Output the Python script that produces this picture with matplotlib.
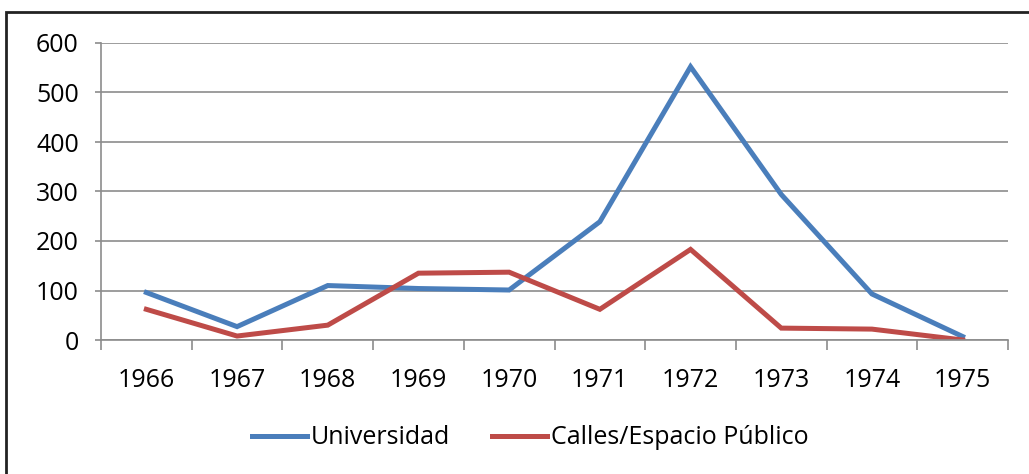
import matplotlib.pyplot as plt
from matplotlib.patches import Rectangle

# data
years = ['1966', '1967', '1968', '1969', '1970', '1971', '1972', '1973', '1974', '1975']
universidad = [96, 27, 110, 104, 101, 239, 552, 294, 93, 7]
calles = [62, 8, 30, 135, 137, 62, 183, 24, 22, 0]

plt.rcParams['font.family'] = ['Open Sans', 'DejaVu Sans']

fig = plt.figure(figsize=(10.29, 4.74), dpi=100)
ax = fig.add_axes([101/1029, 1 - 340/474, (1008 - 101)/1029, (340 - 43)/474])

x = list(range(len(years)))
ax.plot(x, universidad, color='#4A7EBB', lw=3.6, label='Universidad', solid_joinstyle='miter')
ax.plot(x, calles, color='#BE4B48', lw=3.6, label='Calles/Espacio Público', solid_joinstyle='miter')

ax.set_xlim(-0.5, len(years) - 0.5)
ax.set_ylim(0, 600)
ax.set_yticks(range(0, 601, 100))
ax.yaxis.grid(True, color='#8c8c8c', lw=1.2)
ax.set_axisbelow(True)

# categories between tick marks
ax.set_xticks([i - 0.5 for i in range(len(years) + 1)])
ax.set_xticklabels([])
ax.set_xticks(x, minor=True)
ax.set_xticklabels(years, minor=True)
ax.tick_params(axis='x', which='major', length=7, width=1.2, color='#8c8c8c')
ax.tick_params(axis='x', which='minor', length=0, pad=20, labelsize=18)
ax.tick_params(axis='y', length=4, width=1.2, color='#8c8c8c', pad=12, labelsize=18)

for s in ['top', 'right']:
    ax.spines[s].set_visible(False)
for s in ['left', 'bottom']:
    ax.spines[s].set_color('#8c8c8c')
    ax.spines[s].set_linewidth(1.2)

fig.legend(loc='center', bbox_to_anchor=(530/1029, 1 - 438/474), ncol=2, frameon=False,
           fontsize=18, handlelength=2.2, columnspacing=1.7, handletextpad=0.15)

# outer frame (only left and top visible in the crop)
fig.patches.append(Rectangle((6/1029, -0.1), 1.2, 1 - 12/474 + 0.1, transform=fig.transFigure,
                             fill=False, edgecolor='#222222', lw=2))

fig.savefig('out.png', dpi=100)
